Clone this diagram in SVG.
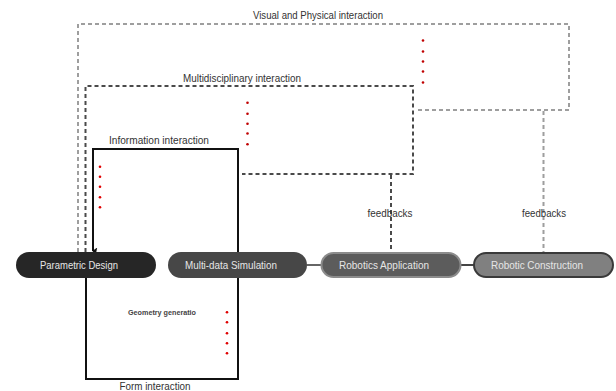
<svg xmlns="http://www.w3.org/2000/svg" width="616" height="391" viewBox="0 0 616 391">
<style>
.lbl{font-family:"Liberation Sans",Arial,sans-serif;font-size:10px;fill:#333;text-anchor:middle}
.ntx{font-family:"Liberation Sans",Arial,sans-serif;font-size:10.5px;fill:#e6e6e6;text-anchor:middle}
.lg{fill:none;stroke:#9e9e9e;stroke-width:2;stroke-dasharray:4 3}
.dg{fill:none;stroke:#4a4a4a;stroke-width:2;stroke-dasharray:4 3}
.bk{fill:none;stroke:#111;stroke-width:2}
.dot{fill:#e00000}
.dot2{fill:#c00000}
</style>
<defs>
<marker id="ah" viewBox="0 0 10 10" refX="5" refY="9" markerWidth="7" markerHeight="7" orient="auto-start-reverse" markerUnits="userSpaceOnUse">
<path d="M0,3 L5,10 L10,5 Z" fill="#111"/>
</marker>
</defs>
<rect width="616" height="391" fill="#fff"/>
<g id="connectors">
<path class="lg" d="M78,252 V24 H569 V110 H417"/>
<path class="lg" d="M543.5,111 V252"/>
<path class="dg" d="M85.5,252 V86 H413 V174 H242"/>
<path class="dg" d="M391,175 V252"/>
<path class="bk" d="M238,252 V149 H93 V251" marker-end="url(#ah)"/>
<path class="bk" d="M86,278 V379 H238 V278"/>
<line x1="307" y1="265" x2="321" y2="265" stroke="#666" stroke-width="2"/>
<line x1="461" y1="265" x2="474" y2="265" stroke="#444" stroke-width="2"/>
</g>
<g id="labels">
<text class="lbl" x="318" y="19" textLength="130" lengthAdjust="spacingAndGlyphs">Visual and Physical interaction</text>
<text class="lbl" x="242" y="82" textLength="118" lengthAdjust="spacingAndGlyphs">Multidisciplinary interaction</text>
<text class="lbl" x="159" y="144" textLength="100" lengthAdjust="spacingAndGlyphs">Information interaction</text>
<text class="lbl" x="390" y="217" textLength="45" lengthAdjust="spacingAndGlyphs">feedbacks</text>
<text class="lbl" x="544" y="217" textLength="44" lengthAdjust="spacingAndGlyphs">feedbacks</text>
<text class="lbl" x="155" y="390" textLength="71" lengthAdjust="spacingAndGlyphs">Form interaction</text>
<text x="162" y="315" font-family="Liberation Sans,Arial,sans-serif" font-size="7px" font-weight="bold" fill="#444" text-anchor="middle" textLength="68" lengthAdjust="spacingAndGlyphs">Geometry generatio</text>
</g>
<g id="dots">
<circle class="dot2" cx="423" cy="40.5" r="1.3"/>
<circle class="dot2" cx="423" cy="51.5" r="1.3"/>
<circle class="dot2" cx="423" cy="61.5" r="1.3"/>
<circle class="dot2" cx="423" cy="71.5" r="1.3"/>
<circle class="dot2" cx="423" cy="82.5" r="1.3"/>
<circle class="dot2" cx="247.5" cy="102.7" r="1.3"/>
<circle class="dot2" cx="247.5" cy="113.7" r="1.3"/>
<circle class="dot2" cx="247.5" cy="123.7" r="1.3"/>
<circle class="dot2" cx="247.5" cy="133.5" r="1.3"/>
<circle class="dot2" cx="247.5" cy="144.3" r="1.3"/>
<circle class="dot" cx="100" cy="166.7" r="1.3"/>
<circle class="dot" cx="100" cy="176.7" r="1.3"/>
<circle class="dot" cx="100" cy="186.7" r="1.3"/>
<circle class="dot" cx="100" cy="197.3" r="1.3"/>
<circle class="dot" cx="100" cy="207.3" r="1.3"/>
<circle class="dot" cx="227" cy="312.3" r="1.3"/>
<circle class="dot" cx="227" cy="322.3" r="1.3"/>
<circle class="dot" cx="227" cy="333.3" r="1.3"/>
<circle class="dot" cx="227" cy="343.3" r="1.3"/>
<circle class="dot" cx="227" cy="353.3" r="1.3"/>
</g>
<g id="node-parametric">
<rect x="16" y="252" width="140" height="26" rx="13" fill="#262626"/>
<text class="ntx" x="79" y="268.5" textLength="78" lengthAdjust="spacingAndGlyphs">Parametric Design</text>
</g>
<g id="node-simulation">
<rect x="168" y="252" width="139" height="26" rx="13" fill="#474747"/>
<text class="ntx" x="231" y="268.5" textLength="92" lengthAdjust="spacingAndGlyphs">Multi-data Simulation</text>
</g>
<g id="node-application">
<rect x="321.5" y="253" width="139" height="24" rx="12" fill="#5c5c5c" stroke="#8c8c8c" stroke-width="2"/>
<text class="ntx" x="384" y="268.5" textLength="90" lengthAdjust="spacingAndGlyphs">Robotics Application</text>
</g>
<g id="node-construction">
<rect x="474" y="253" width="139" height="24" rx="12" fill="#808080" stroke="#3a3a3a" stroke-width="2"/>
<text class="ntx" x="537" y="268.5" textLength="92" lengthAdjust="spacingAndGlyphs">Robotic Construction</text>
</g>
</svg>
